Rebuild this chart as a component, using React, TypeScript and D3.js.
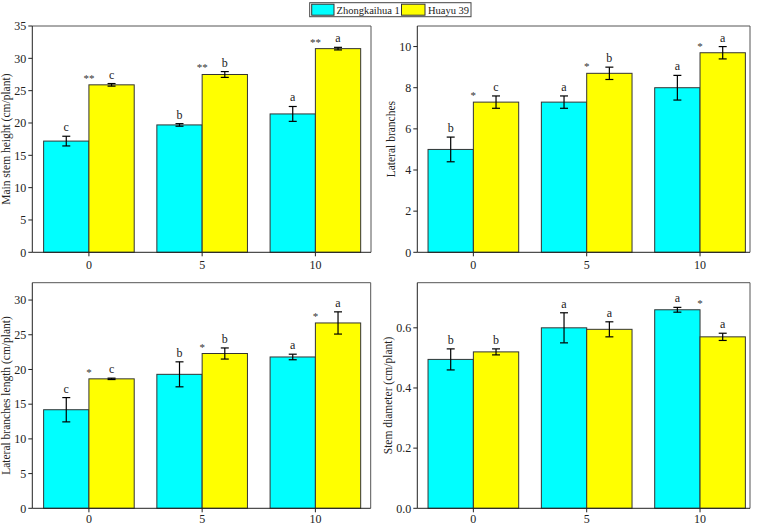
import React from "react";
import * as d3 from "d3";

const categories = ["0", "5", "10"];
const seriesNames = ["Zhongkaihua 1", "Huayu 39"];
const seriesColors = ["#00FFFF", "#FFFF00"];

const heightZ = [17.2, 19.7, 21.4];
const heightZErr = [0.75, 0.2, 1.15];
const heightH = [25.9, 27.5, 31.5];
const heightHErr = [0.2, 0.45, 0.2];
const heightLettersZ = ["c", "b", "a"];
const heightLettersH = ["c", "b", "a"];
const heightStars = ["**", "**", "**"];

const branchesZ = [5.0, 7.3, 8.0];
const branchesZErr = [0.6, 0.3, 0.6];
const branchesH = [7.3, 8.7, 9.7];
const branchesHErr = [0.3, 0.3, 0.3];
const branchesLettersZ = ["b", "a", "a"];
const branchesLettersH = ["c", "b", "a"];
const branchesStars = ["*", "*", "*"];

const lengthZ = [14.2, 19.3, 21.8];
const lengthZErr = [1.75, 1.8, 0.4];
const lengthH = [18.65, 22.3, 26.7];
const lengthHErr = [0.1, 0.8, 1.6];
const lengthLettersZ = ["c", "b", "a"];
const lengthLettersH = ["c", "b", "a"];
const lengthStars = ["*", "*", "*"];

const diameterZ = [0.495, 0.6, 0.66];
const diameterZErr = [0.035, 0.05, 0.008];
const diameterH = [0.52, 0.595, 0.57];
const diameterHErr = [0.01, 0.025, 0.012];
const diameterLettersZ = ["b", "a", "a"];
const diameterLettersH = ["b", "a", "a"];
const diameterStars = ["", "", "*"];

const FONT = "'Liberation Serif', 'Times New Roman', serif";

type PanelProps = {
  left: number; right: number; top: number; bottom: number;
  bandRange: [number, number];
  domain: [number, number];
  ticks: number[];
  fmt: (v: number) => string;
  title: string; titleX: number; xLabelOffset: number;
  z: number[]; zErr: number[]; h: number[]; hErr: number[];
  lz: string[]; lh: string[]; stars: string[];
};

function Panel(p: PanelProps) {
  const x = d3.scaleBand<string>().domain(categories).range(p.bandRange).paddingInner(0.2).paddingOuter(0.1);
  const y = d3.scaleLinear().domain(p.domain).range([p.bottom, p.top]);
  const bw = x.bandwidth() / 2;
  const series = [
    { vals: p.z, errs: p.zErr, letters: p.lz },
    { vals: p.h, errs: p.hErr, letters: p.lh },
  ];
  const cap = 4;
  return (
    <g>
      {series.map((s, si) =>
        categories.map((c, i) => {
          const x0 = (x(c) as number) + si * bw;
          const cx = x0 + bw / 2;
          const yt = y(s.vals[i]);
          const ye1 = y(s.vals[i] + s.errs[i]);
          const ye0 = y(s.vals[i] - s.errs[i]);
          return (
            <g key={`${si}-${i}`}>
              <rect x={x0} y={yt} width={bw} height={p.bottom - yt} fill={seriesColors[si]} stroke="#333" strokeWidth={1} />
              <line x1={cx} x2={cx} y1={ye1} y2={ye0} stroke="#000" strokeWidth={1.2} />
              <line x1={cx - cap} x2={cx + cap} y1={ye1} y2={ye1} stroke="#000" strokeWidth={1.2} />
              <line x1={cx - cap} x2={cx + cap} y1={ye0} y2={ye0} stroke="#000" strokeWidth={1.2} />
              <text x={cx} y={ye1 - 5} textAnchor="middle" fontSize={12} fontFamily={FONT} fill="#222">{s.letters[i]}</text>
            </g>
          );
        })
      )}
      {categories.map((c, i) => {
        const cx = (x(c) as number) + bw;
        const top = y(Math.max(p.z[i], p.h[i]));
        return (
          <text key={`s${i}`} x={cx} y={top - 3} textAnchor="middle" fontSize={11} fontFamily={FONT} fill="#333">{p.stars[i]}</text>
        );
      })}
      <line x1={p.left} x2={p.right} y1={p.top} y2={p.top} stroke="#555" strokeWidth={1} />
      <line x1={p.right} x2={p.right} y1={p.top} y2={p.bottom} stroke="#555" strokeWidth={1} />
      <line x1={p.left} x2={p.left} y1={p.top} y2={p.bottom} stroke="#222" strokeWidth={1} />
      <line x1={p.left} x2={p.right} y1={p.bottom} y2={p.bottom} stroke="#222" strokeWidth={1} />
      {p.ticks.map((t) => (
        <g key={`yt${t}`}>
          <line x1={p.left - 4} x2={p.left} y1={y(t)} y2={y(t)} stroke="#222" />
          <text x={p.left - 6} y={y(t)} dy="0.35em" textAnchor="end" fontSize={12} fontFamily={FONT} fill="#222">{p.fmt(t)}</text>
        </g>
      ))}
      {categories.map((c) => {
        const cx = (x(c) as number) + bw;
        return (
          <g key={`xt${c}`}>
            <line x1={cx} x2={cx} y1={p.bottom} y2={p.bottom + 4} stroke="#222" />
            <text x={cx} y={p.bottom + p.xLabelOffset} textAnchor="middle" fontSize={12} fontFamily={FONT} fill="#222">{c}</text>
          </g>
        );
      })}
      <text transform={`translate(${p.titleX},${(p.top + p.bottom) / 2}) rotate(-90)`} dy="0.35em" textAnchor="middle" fontSize={11.5} fontFamily={FONT} fill="#222">{p.title}</text>
    </g>
  );
}

export default function App() {
  const intFmt = d3.format("d");
  const decFmt = d3.format(".1f");
  return (
    <svg width={758} height={526} style={{ position: "absolute", left: 0, top: 0, background: "#fff" }}>
      <rect width={758} height={526} fill="#fff" />
      <Panel left={32.3} right={371} top={26} bottom={252.3} bandRange={[32.3, 372]} domain={[0, 35]}
        ticks={d3.range(0, 36, 5)} fmt={intFmt} title="Main stem height (cm/plant)" titleX={6} xLabelOffset={17}
        z={heightZ} zErr={heightZErr} h={heightH} hErr={heightHErr} lz={heightLettersZ} lh={heightLettersH} stars={heightStars} />
      <Panel left={417.3} right={750} top={26} bottom={252.3} bandRange={[416.7, 756.7]} domain={[0, 11]}
        ticks={d3.range(0, 11, 2)} fmt={intFmt} title="Lateral branches" titleX={391} xLabelOffset={17}
        z={branchesZ} zErr={branchesZErr} h={branchesH} hErr={branchesHErr} lz={branchesLettersZ} lh={branchesLettersH} stars={branchesStars} />
      <Panel left={32.3} right={370.7} top={282.7} bottom={508.3} bandRange={[32.3, 372]} domain={[0, 32.5]}
        ticks={d3.range(0, 31, 5)} fmt={intFmt} title="Lateral branches length (cm/plant)" titleX={6} xLabelOffset={14.5}
        z={lengthZ} zErr={lengthZErr} h={lengthH} hErr={lengthHErr} lz={lengthLettersZ} lh={lengthLettersH} stars={lengthStars} />
      <Panel left={417.3} right={750} top={282.7} bottom={508.3} bandRange={[416.7, 756.7]} domain={[0, 0.75]}
        ticks={[0, 0.2, 0.4, 0.6]} fmt={decFmt} title="Stem diameter (cm/plant)" titleX={388} xLabelOffset={14.5}
        z={diameterZ} zErr={diameterZErr} h={diameterH} hErr={diameterHErr} lz={diameterLettersZ} lh={diameterLettersH} stars={diameterStars} />
      <g>
        <rect x={309.7} y={2.7} width={161.3} height={14} fill="#fff" stroke="#444" strokeWidth={1} />
        <rect x={311.7} y={4.2} width={22.3} height={11} fill={seriesColors[0]} stroke="#333" strokeWidth={1} />
        <text x={336.5} y={13.8} fontSize={10.5} fontFamily={FONT} fill="#222">{seriesNames[0]}</text>
        <rect x={401.5} y={4.2} width={23.5} height={11} fill={seriesColors[1]} stroke="#333" strokeWidth={1} />
        <text x={428} y={13.8} fontSize={10.5} fontFamily={FONT} fill="#222">{seriesNames[1]}</text>
      </g>
    </svg>
  );
}
